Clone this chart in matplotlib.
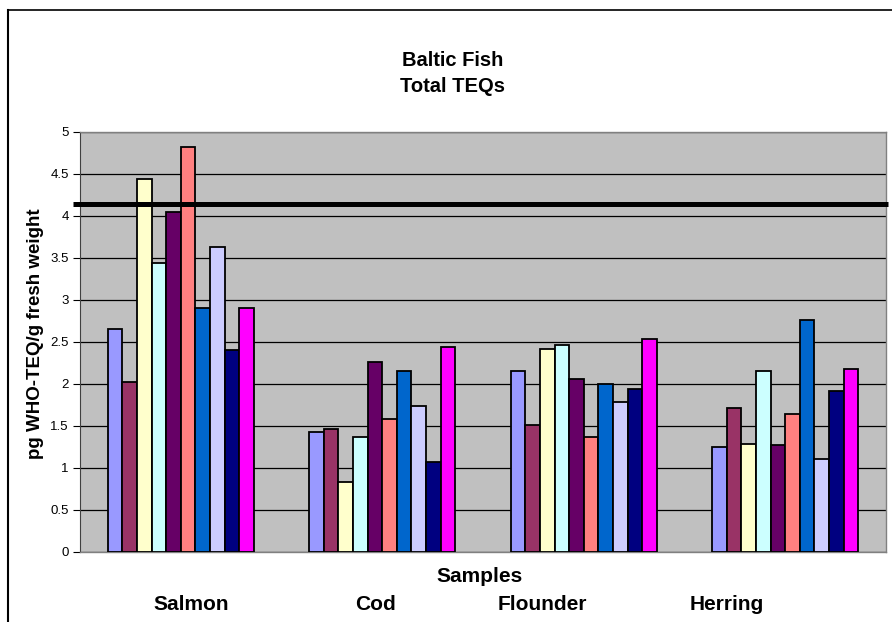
import matplotlib
matplotlib.use("Agg")
import matplotlib.pyplot as plt
import numpy as np
from matplotlib.lines import Line2D

plt.rcParams['font.family'] = ['Liberation Sans', 'DejaVu Sans']

species = ['Salmon', 'Cod', 'Flounder', 'Herring']
# one series per sample, values per species
samples = [
    [2.66, 1.43, 2.16, 1.25],
    [2.02, 1.47, 1.51, 1.72],
    [4.44, 0.83, 2.42, 1.29],
    [3.44, 1.37, 2.46, 2.16],
    [4.05, 2.26, 2.06, 1.27],
    [4.82, 1.58, 1.37, 1.64],
    [2.90, 2.15, 2.00, 2.76],
    [3.63, 1.74, 1.78, 1.11],
    [2.40, 1.07, 1.94, 1.92],
    [2.90, 2.44, 2.54, 2.18],
]
colors = ['#9999FF', '#993366', '#FFFFCC', '#CCFFFF', '#660066',
          '#FF8080', '#0066CC', '#CCCCFF', '#000080', '#FF00FF']
limit = 4.14
yticks = [0, 0.5, 1, 1.5, 2, 2.5, 3, 3.5, 4, 4.5, 5]
ytick_labels = ['0', '0.5', '1', '1.5', '2', '2.5', '3', '3.5', '4', '4.5', '5']

W, H = 892, 622
fig = plt.figure(figsize=(W / 100, H / 100), dpi=100)
ax = fig.add_axes([80 / W, (H - 552) / H, 806 / W, 420 / H])
ax.set_facecolor('#C0C0C0')

x = np.arange(len(species))
group = 0.725
bw = group / len(samples)
for i, (vals, c) in enumerate(zip(samples, colors)):
    ax.bar(x - group / 2 + bw * (i + 0.5), vals, width=bw, color=c,
           edgecolor='black', linewidth=1.3, zorder=3)

ax.set_xlim(-0.5, len(species) - 0.5)
ax.set_ylim(0, 5)
ax.set_yticks(yticks)
ax.set_yticklabels(ytick_labels, fontsize=9.5)
ax.set_xticks([])
ax.yaxis.grid(True, color='black', linewidth=0.9, zorder=0)
ax.set_axisbelow(True)
ax.tick_params(axis='y', direction='out', length=5, width=0.8, pad=3)

for side in ['top', 'right', 'bottom']:
    ax.spines[side].set_color('#808080')
    ax.spines[side].set_linewidth(1.0)
ax.spines['left'].set_color('#404040')

# threshold line, running slightly past the plot area
ax.axhline(limit, xmin=-0.009, xmax=1.002, color='black', linewidth=3.6,
           solid_capstyle='butt', clip_on=False, zorder=5)

ax.set_ylabel('pg WHO-TEQ/g fresh weight', fontsize=13.5, fontweight='bold')
ax.yaxis.set_label_coords(-0.045, 0.52)

fig.text(453 / W, 1 - 60 / H, 'Baltic Fish', ha='center', va='center',
         fontsize=14.5, fontweight='bold')
fig.text(453 / W, 1 - 87 / H, 'Total TEQs', ha='center', va='center',
         fontsize=14.5, fontweight='bold')
fig.text(480 / W, 1 - 577 / H, 'Samples', ha='center', va='center',
         fontsize=15, fontweight='bold')
for name, px in zip(species, [191, 375, 542, 727]):
    fig.text(px / W, 1 - 604 / H, name, ha='center', va='center',
             fontsize=15, fontweight='bold')

# chart area border (top and left edges visible)
fig.add_artist(Line2D([8 / W, 8 / W], [0, 1 - 10 / H], color='black',
                      linewidth=1.5, transform=fig.transFigure))
fig.add_artist(Line2D([8 / W, 1], [1 - 10 / H, 1 - 10 / H], color='black',
                      linewidth=1.2, transform=fig.transFigure))

fig.savefig('out.png', dpi=100)
